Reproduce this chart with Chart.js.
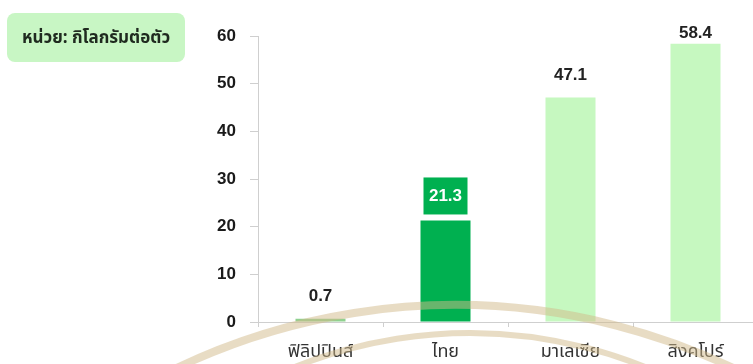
<!DOCTYPE html>
<html>
<head>
<meta charset="utf-8">
<script src="https://cdn.jsdelivr.net/npm/chart.js@4/dist/chart.umd.min.js"></script>
<style>
  html, body { margin: 0; padding: 0; background: #fff; overflow: hidden; }
  #wrap { width: 760px; height: 364px; position: relative; }
</style>
</head>
<body>
<div id="wrap"><canvas id="chart"></canvas></div>
<script>
// data
const countries = ['ฟิลิปปินส์', 'ไทย', 'มาเลเซีย', 'สิงคโปร์'];
const kgPerHead = [0.7, 21.3, 47.1, 58.4];
const yTicks = [0, 10, 20, 30, 40, 50, 60];
const unitLabel = 'หน่วย: กิโลกรัมต่อตัว';

const FONT = "'Noto Sans Thai', 'Noto Sans', 'DejaVu Sans', sans-serif";
const NUMFONT = "'Liberation Sans', Arial, sans-serif";
const barColors = ['#8fd18f', '#00b050', '#c6f8c0', '#c6f8c0'];

// unit box + value labels + faint watermark arcs
const extras = {
  id: 'extras',
  afterDraw(chart) {
    const ctx = chart.ctx;
    const meta = chart.getDatasetMeta(0);

    ctx.save();
    // watermark
    ctx.globalAlpha = 0.5;
    ctx.strokeStyle = '#d2b98a';
    ctx.lineWidth = 8;
    ctx.beginPath();
    ctx.arc(455, 950, 645, Math.PI * 1.2, Math.PI * 1.8);
    ctx.stroke();
    ctx.lineWidth = 6;
    ctx.beginPath();
    ctx.arc(470, 800, 467, Math.PI * 1.2, Math.PI * 1.8);
    ctx.stroke();
    ctx.globalAlpha = 1;

    // unit box
    ctx.fillStyle = '#c8f6c4';
    ctx.beginPath();
    ctx.roundRect(7, 13, 178, 49, 8);
    ctx.fill();
    ctx.fillStyle = '#1f2a1f';
    ctx.font = 'bold 17px ' + FONT;
    ctx.textAlign = 'center';
    ctx.textBaseline = 'middle';
    ctx.fillText(unitLabel, 96, 40);

    // value labels
    meta.data.forEach((bar, i) => {
      const txt = kgPerHead[i].toFixed(1);
      ctx.font = 'bold 17px ' + NUMFONT;
      if (i === 1) {
        ctx.fillStyle = '#00b050';
        ctx.fillRect(bar.x - 22, bar.y - 43, 44, 37);
        ctx.fillStyle = '#ffffff';
        ctx.fillText(txt, bar.x, bar.y - 24);
      } else {
        ctx.fillStyle = '#222';
        ctx.fillText(txt, bar.x, Math.max(bar.y - 22, 33));
      }
    });
    ctx.restore();
  }
};

new Chart(document.getElementById('chart'), {
  type: 'bar',
  data: {
    labels: countries,
    datasets: [{
      data: kgPerHead,
      backgroundColor: barColors,
      barPercentage: 0.4,
      categoryPercentage: 1
    }]
  },
  options: {
    responsive: true,
    maintainAspectRatio: false,
    animation: false,
    layout: { padding: { top: 36, right: 2, left: 0, bottom: 0 } },
    plugins: { legend: { display: false }, tooltip: { enabled: false } },
    scales: {
      x: {
        grid: { drawOnChartArea: false, tickLength: 5, color: '#cfcfcf' },
        border: { color: '#cfcfcf' },
        ticks: { color: '#333', font: { family: FONT, size: 18 }, padding: 16 },
        afterFit(s) { s.height = 42; }
      },
      y: {
        min: 0, max: 60,
        afterBuildTicks(s) { s.ticks = yTicks.map(v => ({ value: v })); },
        grid: { drawOnChartArea: false, tickLength: 8, color: '#cfcfcf' },
        border: { color: '#cfcfcf' },
        ticks: { color: '#1a1a1a', font: { family: NUMFONT, size: 17, weight: 'bold' }, padding: 14 },
        afterFit(s) { s.width = 258; }
      }
    }
  },
  plugins: [extras]
});
</script>
</body>
</html>
